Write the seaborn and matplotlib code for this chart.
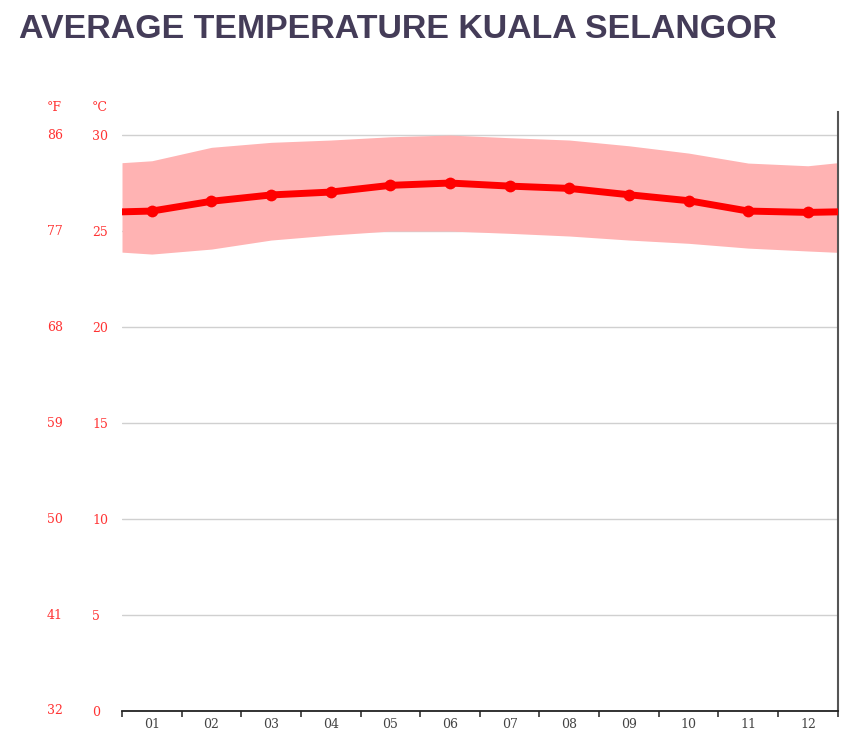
import numpy as np
import pandas as pd
import seaborn as sns
import matplotlib.pyplot as plt
from matplotlib.ticker import FixedLocator

# Data (deg C)
months = ['01', '02', '03', '04', '05', '06', '07', '08', '09', '10', '11', '12']
temp_mean = [26.04, 26.55, 26.88, 27.03, 27.38, 27.50, 27.34, 27.22, 26.89, 26.58, 26.04, 25.97]
temp_high = [28.66, 29.36, 29.62, 29.74, 29.91, 30.00, 29.86, 29.74, 29.44, 29.06, 28.54, 28.40]
temp_low = [23.80, 24.06, 24.53, 24.79, 25.00, 25.00, 24.88, 24.74, 24.53, 24.36, 24.11, 23.96]
# values where the curves meet the left / right plot edges
edge_mean = [26.00, 26.00]
edge_high = [28.56, 28.56]
edge_low = [23.90, 23.89]

celsius_ticks = [0, 5, 10, 15, 20, 25, 30]
fahrenheit_labels = ['32', '41', '50', '59', '68', '77', '86']

title = 'AVERAGE TEMPERATURE KUALA SELANGOR'

# Build frames
pos = np.arange(1, len(months) + 1)
xlim = (0.5, len(months) + 0.5)
df = pd.DataFrame({'pos': pos, 'mean': temp_mean, 'high': temp_high, 'low': temp_low})
ext = pd.DataFrame({
    'pos': np.r_[xlim[0], pos, xlim[1]],
    'mean': [edge_mean[0]] + temp_mean + [edge_mean[1]],
    'high': [edge_high[0]] + temp_high + [edge_high[1]],
    'low': [edge_low[0]] + temp_low + [edge_low[1]],
})

sns.set_style('white')
plt.rcParams['font.family'] = ['DejaVu Serif']

red = '#ff0000'
label_red = '#ff3333'
fs = 9

fig = plt.figure(figsize=(8.48, 7.53), dpi=100)
ax = fig.add_axes([122 / 848, 1 - 711 / 753, (837.7 - 122) / 848, (711 - 112) / 753])

ax.fill_between(ext['pos'], ext['low'], ext['high'], color='#ffb3b3', linewidth=0, zorder=2)
sns.lineplot(data=ext, x='pos', y='mean', color=red, linewidth=5, ax=ax, zorder=3)
sns.scatterplot(data=df, x='pos', y='mean', color=red, s=72, linewidth=0, ax=ax, zorder=4)

ax.set_xlim(*xlim)
ax.set_ylim(0, 31.2)
ax.set_xlabel('')
ax.set_ylabel('')

# y axis: grid + deg C labels (left aligned)
ax.set_yticks(celsius_ticks)
ax.set_yticklabels([str(v) for v in celsius_ticks], ha='left', color=label_red, fontsize=fs)
ax.tick_params(axis='y', length=0, pad=30 * 0.72)
ax.grid(axis='y', color='#d0d0d0', linewidth=1)
ax.set_axisbelow(True)

# deg F labels
ytrans = ax.get_yaxis_transform()
f_x = (47 - 122) / (837.7 - 122)
c_x = (92 - 122) / (837.7 - 122)
for c, f in zip(celsius_ticks, fahrenheit_labels):
    ax.text(f_x, c, f, transform=ytrans, ha='left', va='center', color=label_red, fontsize=fs)
ax.text(f_x, 31.45, '°F', transform=ytrans, ha='left', va='center', color=label_red, fontsize=fs, clip_on=False)
ax.text(c_x, 31.45, '°C', transform=ytrans, ha='left', va='center', color=label_red, fontsize=fs, clip_on=False)

# x axis: month labels at centres, tick marks between months
ax.set_xticks(pos)
ax.set_xticklabels(months, color='#444444', fontsize=fs)
ax.tick_params(axis='x', which='major', length=0, pad=5)
ax.xaxis.set_minor_locator(FixedLocator(np.arange(xlim[0], xlim[1] + 0.01, 1.0)))
ax.tick_params(axis='x', which='minor', length=4, width=1.2, color='#333333', direction='out', bottom=True)

for s in ['top', 'left']:
    ax.spines[s].set_visible(False)
ax.spines['bottom'].set_color('#222222')
ax.spines['bottom'].set_linewidth(1.3)
ax.spines['right'].set_color('#555555')
ax.spines['right'].set_linewidth(1.5)

fig.text(19 / 848, 1 - 38 / 753, title, family=['Liberation Sans', 'DejaVu Sans'], fontweight='bold',
         fontsize=24.4, color='#443c58', ha='left', va='baseline')

fig.savefig('out.png', dpi=100)
